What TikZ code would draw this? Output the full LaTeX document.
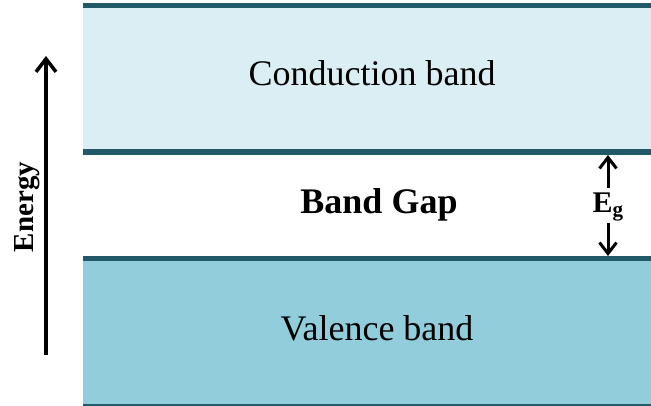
\documentclass[tikz,border=0pt]{standalone}
\usepackage{fontspec}
\setmainfont{Liberation Serif}
\usetikzlibrary{arrows.meta}
\definecolor{condfill}{HTML}{DAEEF3}
\definecolor{valfill}{HTML}{92CDDC}
\definecolor{edge}{HTML}{215968}
\tikzset{
  bandedge/.style={draw=edge, line width=5.5pt},
  label36/.style={font=\fontsize{36}{40}\selectfont, inner sep=0pt, anchor=base},
  barb/.style={line width=3pt, -{Straight Barb[length=11pt,width=17pt,line width=3pt]}},
}
\begin{document}
\begin{tikzpicture}[x=1pt,y=-1pt]
  \useasboundingbox (0,0) rectangle (651,406);
  % band areas
  \fill[condfill] (83,5) rectangle (651,152);
  \fill[valfill] (83,258.5) rectangle (651,405);
  % band edges
  \draw[bandedge] (83,5.5) -- (651,5.5);
  \draw[bandedge, line width=6pt] (83,152) -- (651,152);
  \draw[bandedge] (83,258.5) -- (651,258.5);
  \draw[draw=edge, line width=2.5pt] (83,405.5) -- (651,405.5);
  % labels
  \node[label36] (cb) at (372,86) {Conduction band};
  \node[label36, font=\fontsize{36}{40}\selectfont\bfseries] (gap) at (379,214) {Band Gap};
  \node[label36] (vb) at (377,340) {Valence band};
  % energy axis
  \coordinate (eb) at (46,355);
  \coordinate (et) at (46,56);
  \draw[line width=3.5pt, -{Straight Barb[length=13pt,width=20pt,line width=3.5pt]}] (eb) -- (et);
  \node[rotate=90, font=\fontsize{29}{32}\selectfont\bfseries, inner sep=0pt] (energy) at (27,207) {Energy};
  % band gap marker
  \node[font=\fontsize{30}{34}\selectfont\bfseries, inner sep=2pt] (eg) at (608,207) {E\textsubscript{g}};
  \coordinate (egt) at (608,155);
  \coordinate (egb) at (608,256);
  \draw[barb] (608,188) -- (egt);
  \draw[barb] (608,223) -- (egb);
\end{tikzpicture}
\end{document}
